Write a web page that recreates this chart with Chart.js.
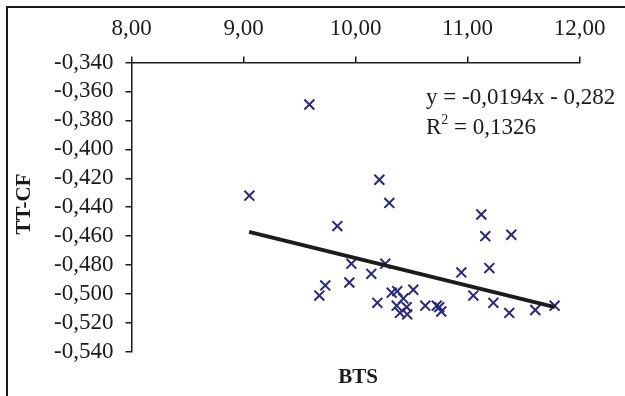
<!DOCTYPE html>
<html>
<head>
<meta charset="utf-8">
<script src="https://cdn.jsdelivr.net/npm/chart.js@4.4.1/dist/chart.umd.min.js"></script>
<style>
html,body{margin:0;padding:0;background:#fff;}
#wrap{width:625px;height:396px;position:relative;}
</style>
</head>
<body>
<div id="wrap"><canvas id="c" width="625" height="396"></canvas></div>
<script>
// Data
const btsValues = [9.588, 9.052, 10.213, 10.302, 9.838, 9.963, 10.266, 10.141, 9.730, 9.945,
  9.677, 10.195, 10.323, 10.373, 10.516, 10.427, 10.368, 10.457, 10.397, 10.462,
  10.623, 10.725, 10.748, 10.766, 10.945, 11.052, 11.123, 11.159, 11.391, 11.195,
  11.231, 11.373, 11.605, 11.778];
const ttcfValues = [-0.369, -0.432, -0.421, -0.437, -0.453, -0.479, -0.479, -0.486, -0.494, -0.492,
  -0.501, -0.506, -0.499, -0.498, -0.497, -0.503, -0.508, -0.509, -0.513, -0.514,
  -0.508, -0.508, -0.509, -0.512, -0.485, -0.501, -0.445, -0.460, -0.459, -0.482,
  -0.506, -0.513, -0.511, -0.508];
const trendX = [9.05, 11.78];
const trendY = [-0.457, -0.509];
const xTicks = [8, 9, 10, 11, 12];
const yTicks = [-0.34, -0.36, -0.38, -0.40, -0.42, -0.44, -0.46, -0.48, -0.50, -0.52, -0.54];
const equationText = 'y = -0,0194x - 0,282';
const r2Text = '0,1326';
const xTitle = 'BTS';
const yTitle = 'TT-CF';

const FONT = '"Liberation Serif", "Times New Roman", serif';

const scatterPts = btsValues.map((x, i) => ({x: x, y: ttcfValues[i]}));
const trendPts = trendX.map((x, i) => ({x: x, y: trendY[i]}));

const decor = {
  id: 'decor',
  beforeDraw(chart) {
    const ctx = chart.ctx;
    ctx.save();
    ctx.fillStyle = '#fff';
    ctx.fillRect(0, 0, chart.width, chart.height);
    ctx.strokeStyle = '#1a1a1a';
    ctx.lineWidth = 2;
    ctx.strokeRect(7, 7, 800, 600);
    ctx.restore();
  },
  afterDraw(chart) {
    const ctx = chart.ctx;
    ctx.save();
    ctx.fillStyle = '#1a1a1a';
    ctx.font = 'bold 21px ' + FONT;
    ctx.textAlign = 'center';
    ctx.textBaseline = 'middle';
    ctx.fillText(xTitle, 358, 378);
    ctx.save();
    ctx.translate(25, 204);
    ctx.rotate(-Math.PI / 2);
    ctx.fillText(yTitle, 0, 0);
    ctx.restore();
    ctx.font = '23px ' + FONT;
    ctx.textAlign = 'left';
    ctx.textBaseline = 'alphabetic';
    ctx.fillText(equationText, 426, 104);
    ctx.fillText('R', 426, 134);
    const rw = ctx.measureText('R').width;
    ctx.font = '14px ' + FONT;
    ctx.fillText('2', 426 + rw, 124);
    const sw = ctx.measureText('2').width;
    ctx.font = '23px ' + FONT;
    ctx.fillText(' = ' + r2Text, 426 + rw + sw, 134);
    ctx.restore();
  }
};

new Chart(document.getElementById('c'), {
  type: 'scatter',
  data: {
    datasets: [
      {
        type: 'line',
        data: trendPts,
        borderColor: '#1c1c1c',
        borderWidth: 4,
        pointRadius: 0,
        fill: false,
        order: 0
      },
      {
        data: scatterPts,
        pointStyle: 'crossRot',
        pointRadius: 7,
        pointBorderWidth: 2,
        borderColor: '#28287e',
        backgroundColor: '#28287e',
        order: 1
      }
    ]
  },
  options: {
    responsive: false,
    animation: false,
    devicePixelRatio: 1,
    layout: { padding: { top: 0, left: 0, right: 45.5, bottom: 44 } },
    plugins: { legend: { display: false }, tooltip: { enabled: false } },
    scales: {
      x: {
        type: 'linear',
        position: 'top',
        min: 8, max: 12,
        afterBuildTicks(scale) { scale.ticks = xTicks.map(v => ({value: v})); },
        afterFit(scale) { scale.height = 62.5; },
        ticks: {
          color: '#1a1a1a',
          font: { family: FONT, size: 23 },
          padding: 14,
          maxRotation: 0,
          autoSkip: false,
          callback: v => v.toFixed(2).replace('.', ',')
        },
        grid: { drawOnChartArea: false, drawTicks: true, tickLength: 6, color: '#1a1a1a', lineWidth: 1.5 },
        border: { display: true, color: '#1a1a1a', width: 1.5 }
      },
      y: {
        type: 'linear',
        min: -0.54, max: -0.34,
        afterBuildTicks(scale) { scale.ticks = yTicks.map(v => ({value: v})); },
        afterFit(scale) { scale.width = 131.5; },
        ticks: {
          color: '#1a1a1a',
          font: { family: FONT, size: 23 },
          padding: 12,
          autoSkip: false,
          callback: v => v.toFixed(3).replace('.', ',')
        },
        grid: { drawOnChartArea: false, drawTicks: true, tickLength: 6, color: '#1a1a1a', lineWidth: 1.5 },
        border: { display: true, color: '#1a1a1a', width: 1.5 }
      }
    }
  },
  plugins: [decor]
});
</script>
</body>
</html>
